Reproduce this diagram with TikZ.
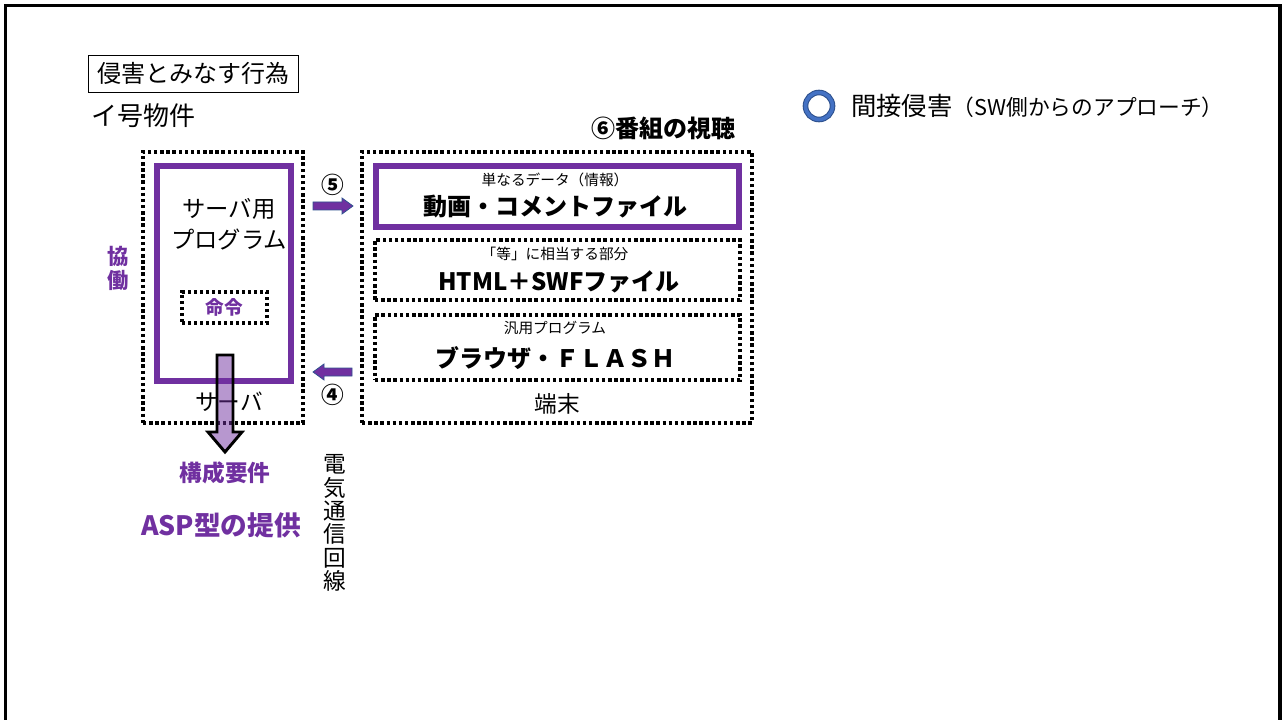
\documentclass[tikz,border=0pt]{standalone}
\usepackage{fontspec}
\setmainfont{Noto Sans CJK JP}
\usetikzlibrary{positioning}
\definecolor{pur}{HTML}{7030A0}
\definecolor{bluec}{HTML}{4472C4}
\definecolor{navy}{HTML}{2F528F}
\newcommand{\fs}[1]{\fontsize{#1}{#1}\selectfont}
\tikzset{
  px/.style={x=0.75pt,y=-0.75pt},
  dotbox/.style={draw=black,line width=2.6pt,dash pattern=on 2.6pt off 2pt},
  purbox/.style={draw=pur,line width=3.8pt},
  lbl/.style={inner sep=0pt,font=\fs{17}},
  small/.style={inner sep=0pt,font=\fs{11}},
  bigb/.style={inner sep=0pt,font=\fs{18}\bfseries},
  purb/.style={inner sep=0pt,text=pur,font=\bfseries},
  smallarrow/.style={fill=pur,draw=navy,line width=0.6pt},
}
\begin{document}
\begin{tikzpicture}[px]
\useasboundingbox (0,0) rectangle (1284,720);
% frame
\draw[line width=2.4pt] (5.5,720) -- (5.5,5.5) -- (1280,5.5) -- (1280,720);

% title box
\node[draw,line width=0.6pt,inner sep=0pt,minimum width=210*0.75pt,minimum height=37*0.75pt,font=\fs{18}] (title) at (193,73.5) {侵害とみなす行為};
\node[lbl,font=\fs{19.5},anchor=west] (ibutsu) at (91,116) {イ号物件};

% server side
\node[dotbox,minimum width=160*0.75pt,minimum height=271*0.75pt,inner sep=0pt] (server) at (223,287.5) {};
\node[purbox,minimum width=134*0.75pt,minimum height=215*0.75pt,inner sep=0pt] (prog) at (224,273.5) {};
\node[lbl,align=center,font=\fontsize{17.5}{17.5}\selectfont] (progtxt) at (229,224) {サーバ用\\[6pt]プログラム};
\node[dotbox,line width=2.5pt,dash pattern=on 2.5pt off 2pt,minimum width=85*0.75pt,minimum height=31*0.75pt,inner sep=0pt] (meirei) at (224.5,307.5) {};
\node[purb,font=\fs{14}\bfseries] at (meirei) {命令};
\node[lbl] (servtxt) at (229,402) {サーバ};
\node[purb,font=\fontsize{16}{17.5}\selectfont\bfseries,align=center] (kyodo) at (118,268.5) {協\\働};

% big arrow
\draw[line width=2.2pt,fill=pur,fill opacity=0.5,draw opacity=1,line join=miter]
  (217,355) -- (233,355) -- (233,432) -- (242,432) -- (225,452) -- (208,432) -- (217,432) -- cycle;
\coordinate (bigtip) at (225,452);
\node[purb,font=\fs{17}\bfseries,below=7pt of bigtip] (kosei) {構成要件};
\node[purb,font=\fs{20}\bfseries] (asp) at (221,525) {ASP型の提供};

% line label
\node[lbl,align=center,font=\fontsize{17}{17.5}\selectfont] (denki) at (335,523) {電\\気\\通\\信\\回\\線};

% small arrows
\node[inner sep=0pt,font=\fs{17}\bfseries] (n5) at (333,185) {⑤};
\draw[smallarrow] (313,202) -- (342,202) -- (342,198) -- (353,206) -- (342,214) -- (342,210) -- (313,210) -- cycle;
\node[inner sep=0pt,font=\fs{17}\bfseries] (n4) at (333,395) {④};
\draw[smallarrow] (352,368) -- (324,368) -- (324,364) -- (313,372) -- (324,380) -- (324,376) -- (352,376) -- cycle;

% terminal side
\node[dotbox,minimum width=390*0.75pt,minimum height=271*0.75pt,inner sep=0pt] (term) at (557,287.5) {};
\node[inner sep=0pt,font=\fs{18}\bfseries] (n6) at (663,128) {⑥番組の視聴};
\node[purbox,minimum width=363*0.75pt,minimum height=61*0.75pt,inner sep=0pt] (b1) at (557.5,196.5) {};
\node[small] at (555,180) {単なるデータ（情報）};
\node[bigb] at (555,207) {動画・コメントファイル};
\node[dotbox,minimum width=365*0.75pt,minimum height=60*0.75pt,inner sep=0pt] (b2) at (557.5,270) {};
\node[small] at (555,254) {「等」に相当する部分};
\node[bigb] at (559,282) {HTML＋SWFファイル};
\node[dotbox,minimum width=365*0.75pt,minimum height=65*0.75pt,inner sep=0pt] (b3) at (557.5,347.5) {};
\node[small] at (555,328) {汎用プログラム};
\node[bigb] at (555,358) {ブラウザ・ＦＬＡＳＨ};
\node[lbl] (tanmatsu) at (557,404) {端末};

% legend
\draw[navy,line width=4.2pt] (819,106) circle (13.5);
\draw[bluec,line width=2.6pt] (819,106) circle (13.5);
\node[inner sep=0pt,anchor=west] (legend) at (851,106) {\fs{19}間接侵害\fs{16.3}（SW側からのアプローチ）};
\end{tikzpicture}
\end{document}
